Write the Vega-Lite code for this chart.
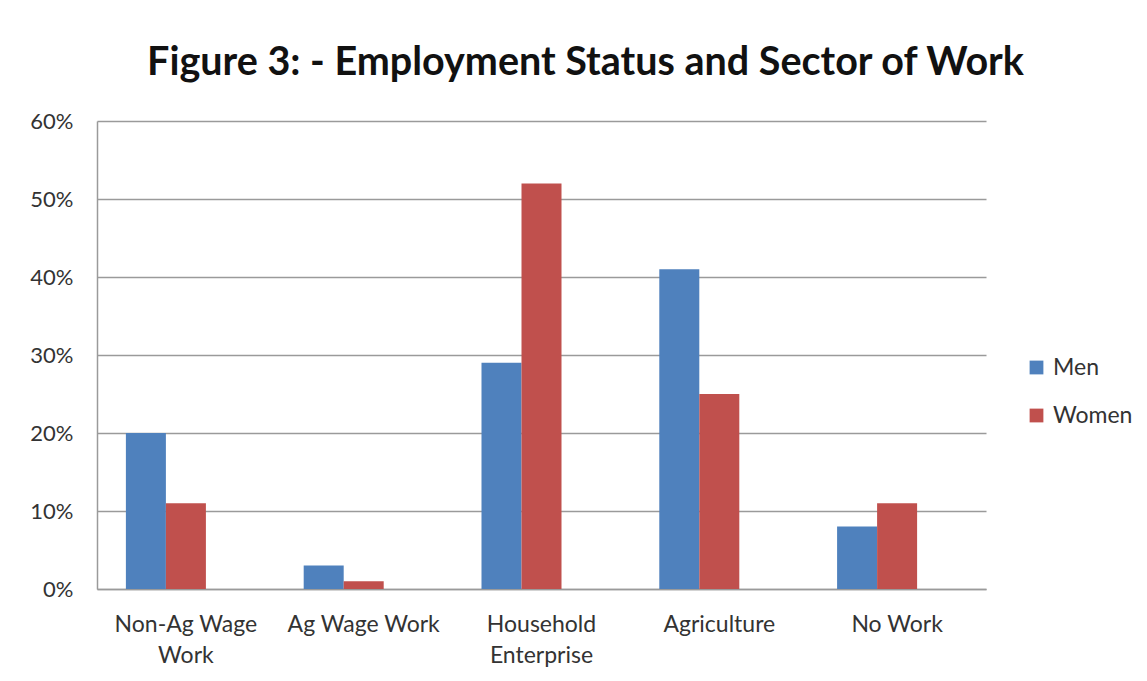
{
  "$schema": "https://vega.github.io/schema/vega-lite/v6.json",
  "width": 889,
  "height": 468,
  "autosize": {"type": "none"},
  "padding": {"left": 97, "top": 121, "right": 161, "bottom": 92},
  "background": "white",
  "title": {
    "text": "Figure 3: - Employment Status and Sector of Work",
    "font": "Lato",
    "fontSize": 39.5,
    "fontWeight": "bold",
    "color": "#111111",
    "anchor": "middle",
    "frame": "group",
    "dx": 44,
    "baseline": "alphabetic",
    "offset": -4
  },
  "data": {
    "values": [
      {"category": "Non-Ag Wage Work", "gender": "Men", "share": 0.20},
      {"category": "Non-Ag Wage Work", "gender": "Women", "share": 0.11},
      {"category": "Ag Wage Work", "gender": "Men", "share": 0.03},
      {"category": "Ag Wage Work", "gender": "Women", "share": 0.01},
      {"category": "Household Enterprise", "gender": "Men", "share": 0.29},
      {"category": "Household Enterprise", "gender": "Women", "share": 0.52},
      {"category": "Agriculture", "gender": "Men", "share": 0.41},
      {"category": "Agriculture", "gender": "Women", "share": 0.25},
      {"category": "No Work", "gender": "Men", "share": 0.08},
      {"category": "No Work", "gender": "Women", "share": 0.11}
    ]
  },
  "mark": {"type": "bar"},
  "encoding": {
    "x": {
      "field": "category",
      "type": "nominal",
      "sort": ["Non-Ag Wage Work", "Ag Wage Work", "Household Enterprise", "Agriculture", "No Work"],
      "scale": {"paddingInner": 0.325, "paddingOuter": 0.1625},
      "axis": {
        "title": null,
        "labelAngle": 0,
        "labelFont": "Lato",
        "labelFontSize": 23,
        "labelColor": "#333333",
        "labelPadding": 42,
        "labelBaseline": "alphabetic",
        "labelLineHeight": 31,
        "labelLimit": 300,
        "ticks": false,
        "domainColor": "#9a9a9a",
        "domainWidth": 1.5,
        "labelExpr": "datum.value == 'Non-Ag Wage Work' ? ['Non-Ag Wage', 'Work'] : datum.value == 'Household Enterprise' ? ['Household', 'Enterprise'] : datum.label"
      }
    },
    "xOffset": {
      "field": "gender",
      "type": "nominal",
      "scale": {"domain": ["Men", "Women", "Other"], "paddingInner": 0, "paddingOuter": 0}
    },
    "y": {
      "field": "share",
      "type": "quantitative",
      "scale": {"domain": [0, 0.6]},
      "axis": {
        "title": null,
        "format": ".0%",
        "values": [0, 0.1, 0.2, 0.3, 0.4, 0.5, 0.6],
        "labelFont": "Lato",
        "labelFontSize": 22,
        "labelColor": "#333333",
        "labelPadding": 24,
        "ticks": false,
        "domainColor": "#9a9a9a",
        "domainWidth": 1.5,
        "grid": true,
        "gridColor": "#9a9a9a",
        "gridWidth": 1.5
      }
    },
    "color": {
      "field": "gender",
      "type": "nominal",
      "scale": {"domain": ["Men", "Women"], "range": ["#4F81BD", "#C0504D"]},
      "legend": {
        "title": null,
        "orient": "none",
        "legendX": 928,
        "legendY": 235,
        "symbolType": "square",
        "symbolSize": 190,
        "symbolStrokeWidth": 0,
        "labelFont": "Lato",
        "labelFontSize": 23,
        "labelColor": "#333333",
        "labelOffset": 5,
        "rowPadding": 24
      }
    }
  },
  "config": {
    "view": {"stroke": null}
  }
}
